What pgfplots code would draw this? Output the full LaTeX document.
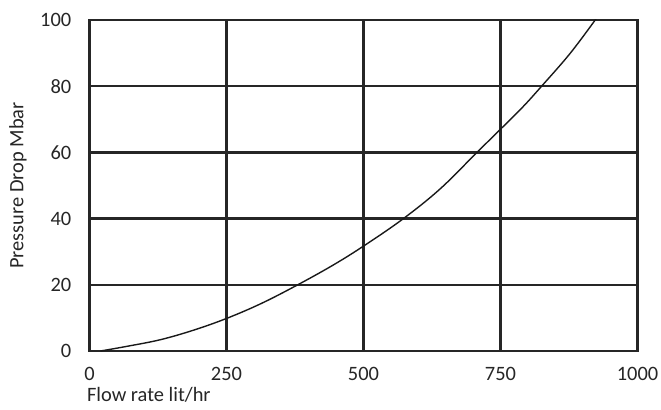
\documentclass[border=0pt]{standalone}
\usepackage{fontspec}
\setmainfont{Carlito}
\usepackage{pgfplots}
\pgfplotsset{compat=1.18}
\begin{document}
\begin{tikzpicture}
\useasboundingbox (-89.5bp,-59bp) rectangle (571.5bp,351bp);
\begin{axis}[
  scale only axis,
  width=548bp, height=331bp,
  xmin=0, xmax=1000, ymin=0, ymax=100,
  xtick={0,250,500,750,1000},
  ytick={0,20,40,60,80,100},
  major tick length=0pt,
  grid=major,
  major grid style={black!85, line width=2.4pt},
  axis line style={black!85, line width=2.5pt},
  /pgf/number format/assume math mode=true,
  /pgf/number format/set thousands separator={},
  tick label style={font=\fontsize{20.5}{23}\selectfont, text=black!85},
  xticklabel style={anchor=base, yshift=-29bp},
  yticklabel style={anchor=east, inner sep=0pt, xshift=-18bp},
  xlabel={Flow rate lit/hr},
  ylabel={Pressure Drop Mbar},
  label style={font=\fontsize{20.5}{23}\selectfont, text=black!85},
  xlabel style={at={(axis description cs:0,0)}, anchor=base west, xshift=-6bp, yshift=-50bp},
  ylabel style={at={(axis description cs:0,0.5)}, anchor=center, yshift=71.5bp},
  clip=true,
]
\addplot[black!90, line width=1.4pt, smooth, tension=0.6] coordinates {
(20,0) (68,1.4) (129,3.4) (190,6.3) (251,9.9) (314,14.4) (380,20) (445,26) (501,31.8)
(572,39.9) (640,49) (707,60) (750,67) (790,73.6) (825,80) (877,89.9) (925,100.5)
};
\end{axis}
\end{tikzpicture}
\end{document}
